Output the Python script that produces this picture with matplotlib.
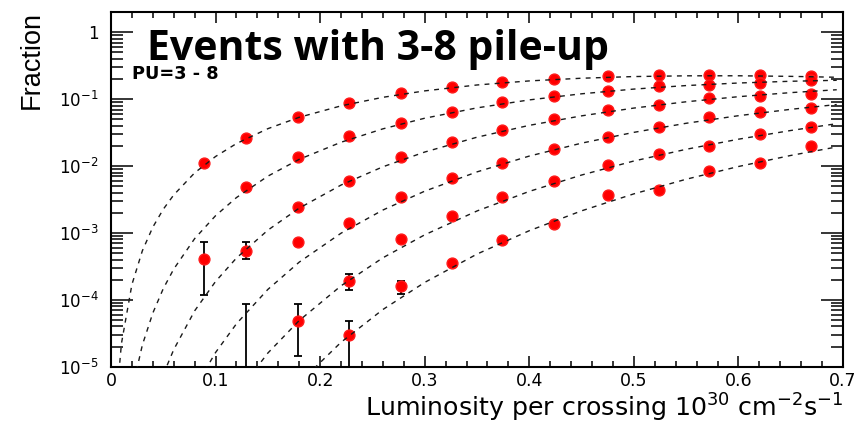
import numpy as np
import matplotlib
matplotlib.use('Agg')
import matplotlib.pyplot as plt
from matplotlib.ticker import LogLocator, MultipleLocator, FixedLocator, FixedFormatter, NullFormatter

plt.rcParams['font.family'] = ['DejaVu Sans']
plt.rcParams['mathtext.fontset'] = 'dejavusans'

nan = np.nan

# luminosity of the measured bins
LUMI = [0.089, 0.129, 0.179, 0.228, 0.277, 0.326, 0.374, 0.424, 0.475, 0.524, 0.572, 0.621, 0.669]

# measured fractions, one list per pile-up multiplicity
PT_PU3 = [0.011, 0.0264, 0.0534, 0.0883, 0.122, 0.150, 0.182, 0.198, 0.219, 0.227, 0.232, 0.232, 0.222]
PT_PU4 = [nan, 0.0049, 0.0137, 0.028, 0.0434, 0.064, 0.0895, 0.112, 0.134, 0.157, 0.163, 0.172, 0.193]
PT_PU5 = [4.1e-4, 5.4e-4, 0.00245, 0.00608, 0.0137, 0.0226, 0.0348, 0.0499, 0.068, 0.0807, 0.103, 0.112, 0.118]
PT_PU6 = [nan, nan, 7.4e-4, 1.41e-3, 0.00346, 0.00652, 0.0112, 0.0179, 0.0274, 0.0386, 0.0534, 0.0634, 0.0728]
PT_PU7 = [nan, nan, 4.9e-5, 1.94e-4, 8.05e-4, 0.00178, 0.00346, 0.00608, 0.0104, 0.0149, 0.0199, 0.030, 0.0382]
PT_PU8 = [nan, nan, nan, 2.94e-5, 1.59e-4, 3.6e-4, 7.96e-4, 1.34e-3, 0.00363, 0.00436, 0.00848, 0.0112, 0.020]

# visible error bars (low / high edge)
ERR_LUMI = [0.089, 0.129, 0.129, 0.179, 0.179, 0.228, 0.228, 0.277]
ERR_LOW = [1.2e-4, 4.1e-4, 1e-6, 6.3e-4, 1.46e-5, 1.39e-4, 1e-6, 1.23e-4]
ERR_HIGH = [7.2e-4, 7.2e-4, 8.6e-5, 7.6e-4, 8.6e-5, 2.4e-4, 4.9e-5, 1.9e-4]

# expected curves
FIT_LUMI = [0.005, 0.01, 0.02, 0.03, 0.04, 0.05, 0.06, 0.08, 0.10, 0.12, 0.15, 0.18,
            0.22, 0.26, 0.30, 0.35, 0.40, 0.45, 0.50, 0.55, 0.60, 0.65, 0.694]
FIT_PU3 = [2.85e-6, 2.22e-5, 1.69e-4, 5.41e-4, 1.22e-3, 2.26e-3, 3.70e-3, 7.91e-3, 1.39e-2, 2.17e-2,
           3.62e-2, 5.36e-2, 7.94e-2, 0.1066, 0.133, 0.163, 0.1875, 0.2056, 0.2178, 0.2234, 0.2237, 0.2193, 0.2125]
FIT_PU4 = [nan, nan, 4.39e-6, 2.11e-5, 6.34e-5, 1.47e-4, 2.88e-4, 8.22e-4, 1.81e-3, 3.38e-3, 7.06e-3,
           1.26e-2, 2.27e-2, 3.60e-2, 5.19e-2, 7.41e-2, 9.75e-2, 0.1203, 0.1415, 0.1597, 0.1744, 0.1852, 0.1915]
FIT_PU5 = [nan] * 5 + [7.64e-6, 1.80e-5, 6.84e-5, 1.88e-4, 4.22e-4, 1.10e-3, 2.35e-3, 5.20e-3, 9.75e-3,
                       1.62e-2, 2.70e-2, 4.06e-2, 5.63e-2, 7.36e-2, 9.14e-2, 0.1089, 0.1253, 0.1383]
FIT_PU6 = [nan] * 7 + [4.74e-6, 1.63e-5, 4.39e-5, 1.43e-4, 3.66e-4, 9.91e-4, 2.20e-3, 4.21e-3, 8.18e-3,
                       1.41e-2, 2.20e-2, 3.19e-2, 4.36e-2, 5.66e-2, 7.05e-2, 8.31e-2]
FIT_PU7 = [nan] * 9 + [3.91e-6, 1.60e-5, 4.90e-5, 1.62e-4, 4.25e-4, 9.37e-4, 2.13e-3, 4.18e-3, 7.34e-3,
                       1.19e-2, 1.78e-2, 2.52e-2, 3.40e-2, 4.30e-2]
FIT_PU8 = [nan] * 11 + [5.73e-6, 2.32e-5, 7.16e-5, 1.82e-4, 4.83e-4, 1.08e-3, 2.14e-3, 3.84e-3, 6.35e-3,
                        9.84e-3, 1.44e-2, 1.93e-2]

X_TICKS = [0, 0.1, 0.2, 0.3, 0.4, 0.5, 0.6, 0.7]
X_TICK_LABELS = ['0', '0.1', '0.2', '0.3', '0.4', '0.5', '0.6', '0.7']
Y_TICKS = [1e-5, 1e-4, 1e-3, 1e-2, 1e-1, 1]
Y_TICK_LABELS = [r'$10^{-5}$', r'$10^{-4}$', r'$10^{-3}$', r'$10^{-2}$', r'$10^{-1}$', '1']

fig = plt.figure(figsize=(8.59, 4.23), dpi=100)
ax = fig.add_axes([0.1292, 0.1331, 0.8522, 0.8392])

# error bars
ax.vlines(ERR_LUMI, ERR_LOW, ERR_HIGH, color='black', lw=1.3, zorder=2)
ax.plot(ERR_LUMI, ERR_LOW, ls='none', marker='_', ms=5.5, mew=1.3, color='black', zorder=2)
ax.plot(ERR_LUMI, ERR_HIGH, ls='none', marker='_', ms=5.5, mew=1.3, color='black', zorder=2)

# data points
for pts in [PT_PU3, PT_PU4, PT_PU5, PT_PU6, PT_PU7, PT_PU8]:
    ax.plot(LUMI, pts, ls='none', marker='o', ms=7.8, color='#ff0000', mec='#ff1a1a', zorder=3)

# expected curves on top
for fit in [FIT_PU3, FIT_PU4, FIT_PU5, FIT_PU6, FIT_PU7, FIT_PU8]:
    ax.plot(FIT_LUMI, fit, color='#1a1a1a', lw=1.0, dashes=(3.5, 3.8), zorder=4)

ax.set_yscale('log')
ax.set_xlim(0, 0.7)
ax.set_ylim(1e-5, 2.03)

ax.xaxis.set_major_locator(FixedLocator(X_TICKS))
ax.xaxis.set_major_formatter(FixedFormatter(X_TICK_LABELS))
ax.xaxis.set_minor_locator(MultipleLocator(0.02))

ax.yaxis.set_major_locator(FixedLocator(Y_TICKS))
ax.yaxis.set_major_formatter(FixedFormatter(Y_TICK_LABELS))
ax.yaxis.set_minor_locator(LogLocator(base=10, subs=np.arange(2, 10), numticks=20))
ax.yaxis.set_minor_formatter(NullFormatter())

ax.tick_params(axis='x', which='major', direction='in', length=8, width=1.1, top=True,
               labelsize=12.5, pad=4)
ax.tick_params(axis='x', which='minor', direction='in', length=4.3, width=1.1, top=True)
ax.tick_params(axis='y', which='major', direction='in', length=16, width=1.1, right=True,
               labelsize=12, pad=9)
ax.tick_params(axis='y', which='minor', direction='in', length=8.6, width=1.1, right=True)
for sp in ax.spines.values():
    sp.set_linewidth(1.5)

fig.text(32 / 859, 1 - 11 / 423, 'Fraction', rotation=90, ha='center', va='top',
         fontsize=19.5, family=['Liberation Sans'])
fig.text(843 / 859, 1 - 416.5 / 423,
         r'Luminosity per crossing 10$^{30}$ cm$^{-2}$s$^{-1}$',
         ha='right', va='baseline', fontsize=18.2)

ax.text(132 / 859, 1 - 79 / 423, 'PU=3 - 8', transform=fig.transFigure,
        fontsize=12.8, fontweight='bold', ha='left', va='baseline')
ax.text(147 / 859, 1 - 60 / 423, 'Events with 3-8 pile-up', transform=fig.transFigure,
        fontsize=29.5, fontweight='bold', family=['Open Sans'], ha='left', va='baseline', zorder=6)

fig.savefig('out.png', dpi=100)
